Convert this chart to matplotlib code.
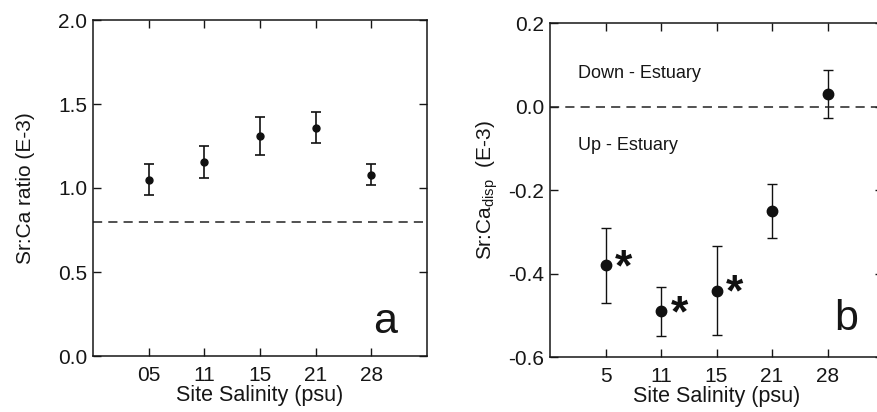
import matplotlib
matplotlib.use("Agg")
import matplotlib.pyplot as plt

plt.rcParams['font.family'] = ['Liberation Sans', 'DejaVu Sans']

# Site salinity categories
sites_a = ["05", "11", "15", "21", "28"]
sites_b = ["5", "11", "15", "21", "28"]

# Panel a: Sr:Ca ratio (E-3) with error bars
srca_mean = [1.05, 1.155, 1.31, 1.36, 1.08]
srca_err = [0.09, 0.097, 0.113, 0.09, 0.06]
srca_ref = 0.8

# Panel b: Sr:Ca displacement (E-3) with error bars
disp_mean = [-0.38, -0.49, -0.44, -0.25, 0.03]
disp_err = [0.089, 0.059, 0.107, 0.065, 0.057]
disp_sig = [True, True, True, False, False]

fig = plt.figure(figsize=(8.77, 4.12), dpi=100)
ax_a = fig.add_axes([93/877, 1-356/412, 334/877, 336/412])
ax_b = fig.add_axes([550/877, 1-357.3/412, 333/877, 334/412])

pos = list(range(1, len(sites_a) + 1))
ink = '#161616'

def style(ax):
    ax.tick_params(direction='in', length=6, width=1, top=True, right=True,
                   labelsize=15, colors=ink)
    ax.tick_params(axis='x', pad=7)
    ax.tick_params(axis='y', pad=4)
    for s in ax.spines.values():
        s.set_linewidth(1.1)
        s.set_color(ink)
    ax.set_xlim(0, 6)
    ax.set_xticks(pos)

# Panel a
ax_a.errorbar(pos, srca_mean, yerr=srca_err, fmt='o', color='#111111',
              ms=5, capsize=3.5, elinewidth=1.2, capthick=1.2)
ax_a.axhline(srca_ref, color='#222222', lw=1.1, dashes=(6, 4))
style(ax_a)
ax_a.set_xticklabels(sites_a)
ax_a.set_ylim(0, 2.0)
ax_a.set_yticks([0.0, 0.5, 1.0, 1.5, 2.0])
ax_a.set_yticklabels(["0.0", "0.5", "1.0", "1.5", "2.0"])
ax_a.set_xlabel("Site Salinity (psu)", fontsize=15.5, labelpad=0, color=ink)
ax_a.set_ylabel("Sr:Ca ratio (E-3)", fontsize=15, labelpad=17, color=ink)
ax_a.text(0.91, 0.068, "a", transform=ax_a.transAxes, fontsize=31,
          ha='right', va='baseline', color=ink)

# Panel b
ax_b.errorbar(pos, disp_mean, yerr=disp_err, fmt='o', color='#111111',
              ms=7.5, capsize=3.5, elinewidth=1.0, capthick=1.0)
ax_b.axhline(0.0, color='#222222', lw=1.1, dashes=(6, 4))
for x, y, sig in zip(pos, disp_mean, disp_sig):
    if sig:
        ax_b.annotate("*", (x, y), xytext=(13, -11), textcoords='offset points',
                      fontsize=32, fontweight='bold', ha='center', va='baseline',
                      color='#111111')
style(ax_b)
ax_b.set_xticklabels(sites_b)
ax_b.set_ylim(-0.6, 0.2)
ax_b.set_yticks([-0.6, -0.4, -0.2, 0.0, 0.2])
ax_b.set_yticklabels(["-0.6", "-0.4", "-0.2", "0.0", "0.2"])
ax_b.set_xlabel("Site Salinity (psu)", fontsize=15.5, labelpad=0, color=ink)
ax_b.set_ylabel(r"Sr:Ca$_{\mathregular{disp}}$  (E-3)", fontsize=15, labelpad=6,
                color=ink)
ax_b.text(0.085, 0.85, "Down - Estuary", transform=ax_b.transAxes, fontsize=13,
          ha='left', va='center', color=ink)
ax_b.text(0.085, 0.635, "Up - Estuary", transform=ax_b.transAxes, fontsize=13,
          ha='left', va='center', color=ink)
ax_b.text(0.925, 0.082, "b", transform=ax_b.transAxes, fontsize=31,
          ha='right', va='baseline', color=ink)

fig.savefig("out.png", dpi=100)
